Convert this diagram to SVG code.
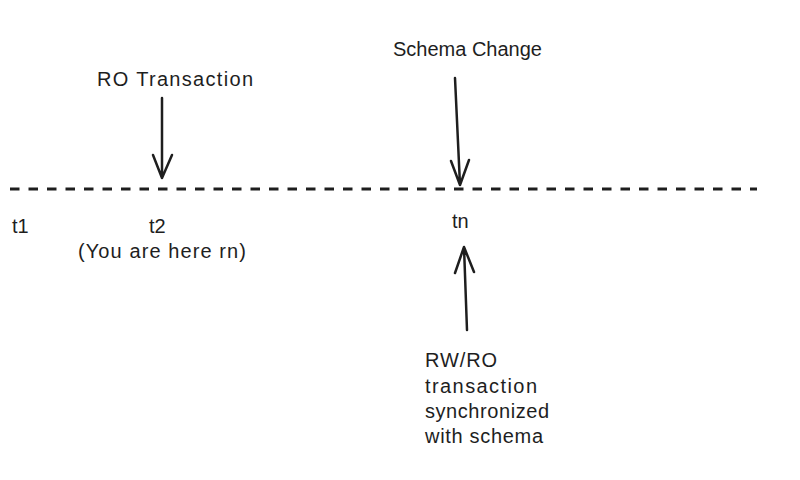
<svg xmlns="http://www.w3.org/2000/svg" width="800" height="480" viewBox="0 0 800 480">
<style>
.t{font-family:"Liberation Sans","DejaVu Sans",sans-serif;font-size:20px;fill:#1e1e1e}
.ln{stroke:#1e1e1e;stroke-width:2.5;fill:none;stroke-linecap:round;stroke-linejoin:round}
</style>
<rect width="800" height="480" fill="#ffffff"/>
<g id="timeline">
<line x1="10" y1="189" x2="757" y2="189" stroke="#1e1e1e" stroke-width="2.8" stroke-dasharray="9.5 9"/>
</g>
<g id="connectors">
<path class="ln" d="M162 98 L162 178 M153 155 L162 178 L172 155"/>
<path class="ln" d="M455 78 L460 185 M451 161 L460 185 L469 160"/>
<path class="ln" d="M467 330 L464 247 M455 273 L464 247 L474 272"/>
</g>
<g id="ro-transaction"><text class="t" x="97" y="86" textLength="156">RO Transaction</text></g>
<g id="schema-change"><text class="t" x="393" y="56">Schema Change</text></g>
<g id="t1"><text class="t" x="12" y="233">t1</text></g>
<g id="t2"><text class="t" x="149" y="233">t2</text><text class="t" x="78" y="258" textLength="168">(You are here rn)</text></g>
<g id="tn"><text class="t" x="452" y="228">tn</text></g>
<g id="rw-ro">
<text class="t" x="425" y="367" textLength="72">RW/RO</text>
<text class="t" x="425" y="393" textLength="112">transaction</text>
<text class="t" x="425" y="418" textLength="124">synchronized</text>
<text class="t" x="425" y="443" textLength="118">with schema</text>
</g>
</svg>
